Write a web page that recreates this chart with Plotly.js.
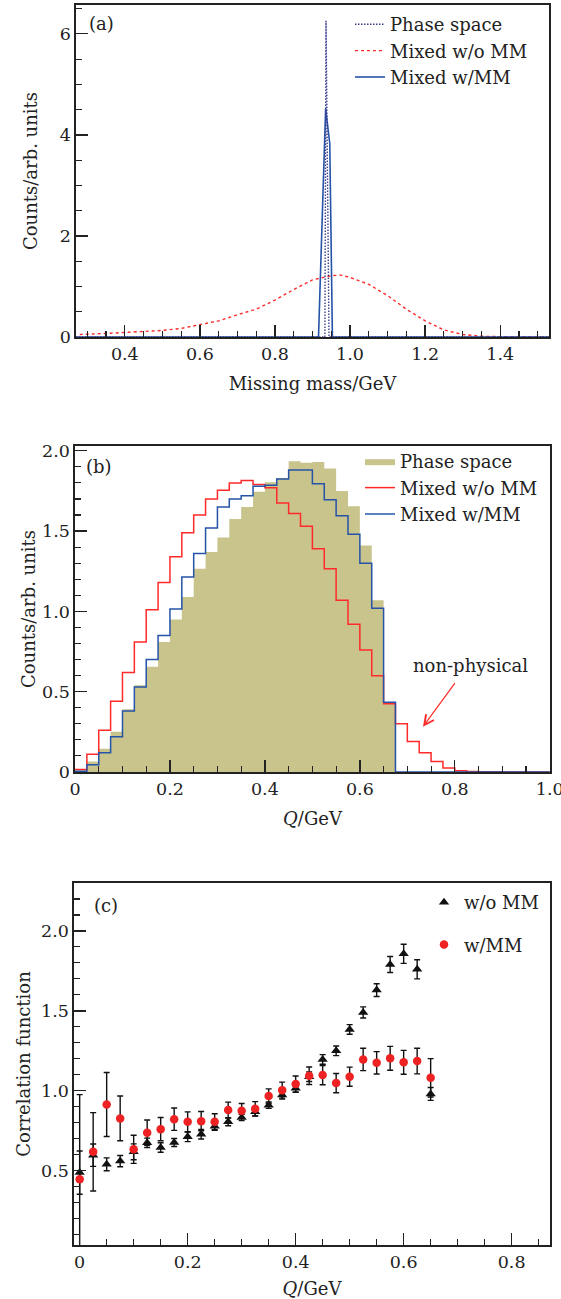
<!DOCTYPE html>
<html>
<head>
<meta charset="utf-8">
<script src="https://cdn.plot.ly/plotly-3.0.1.min.js"></script>
<style>html,body{margin:0;padding:0;background:#fff;}#chart{width:561px;height:1299px;}</style>
</head>
<body>
<div id="chart"></div>
<script>
// ---------- Panel (a): missing mass ----------
const mmPhaseX = [0.27, 0.933, 0.936, 0.944, 1.53];
const mmPhaseY = [0, 0, 6.26, 0, 0];
const mmNoMMX = [0.28, 0.30, 0.35, 0.40, 0.45, 0.50, 0.55, 0.60, 0.65, 0.70, 0.75, 0.80, 0.85, 0.90, 0.95, 0.975, 1.00, 1.05, 1.10, 1.15, 1.20, 1.25, 1.30, 1.35, 1.40, 1.45, 1.53];
const mmNoMMY = [0.05, 0.06, 0.07, 0.09, 0.105, 0.13, 0.17, 0.24, 0.32, 0.44, 0.55, 0.73, 0.94, 1.13, 1.215, 1.225, 1.18, 1.04, 0.82, 0.55, 0.32, 0.14, 0.05, 0.015, 0.003, 0, 0];
const mmWithMMX = [0.27, 0.916, 0.935, 0.946, 0.953, 1.53];
const mmWithMMY = [0, 0, 4.52, 3.83, 0, 0];

// ---------- Panel (b): Q distributions (bins of 0.025 GeV) ----------
const qEdges = [0, 0.025, 0.05, 0.075, 0.1, 0.125, 0.15, 0.175, 0.2, 0.225, 0.25, 0.275, 0.3, 0.325, 0.35, 0.375, 0.4, 0.425, 0.45, 0.475, 0.5, 0.525, 0.55, 0.575, 0.6, 0.625, 0.65, 0.675, 0.7, 0.725, 0.75, 0.775, 0.8, 0.825, 0.85, 0.875, 0.9, 0.925, 0.95, 0.975, 1.0];
const phaseSpace = [0.01, 0.065, 0.145, 0.25, 0.39, 0.54, 0.655, 0.81, 0.95, 1.09, 1.265, 1.37, 1.46, 1.575, 1.65, 1.745, 1.805, 1.83, 1.935, 1.925, 1.93, 1.89, 1.75, 1.655, 1.41, 1.07, 0.435, 0, 0, 0, 0, 0, 0, 0, 0, 0, 0, 0, 0, 0];
const mixedNoMM = [0.015, 0.11, 0.26, 0.44, 0.62, 0.81, 1.01, 1.18, 1.34, 1.49, 1.60, 1.70, 1.755, 1.80, 1.815, 1.79, 1.77, 1.675, 1.61, 1.53, 1.39, 1.265, 1.07, 0.92, 0.76, 0.60, 0.425, 0.30, 0.19, 0.12, 0.065, 0.025, 0.008, 0.003, 0.002, 0.001, 0, 0, 0, 0];
const mixedMM = [0.005, 0.045, 0.12, 0.22, 0.38, 0.53, 0.70, 0.85, 1.015, 1.215, 1.36, 1.52, 1.65, 1.70, 1.72, 1.78, 1.785, 1.825, 1.88, 1.88, 1.795, 1.695, 1.595, 1.48, 1.30, 1.02, 0.435, 0, 0, 0, 0, 0, 0, 0, 0, 0, 0, 0, 0, 0];

// ---------- Panel (c): correlation function ----------
const qC = [0, 0.025, 0.05, 0.075, 0.1, 0.125, 0.15, 0.175, 0.2, 0.225, 0.25, 0.275, 0.3, 0.325, 0.35, 0.375, 0.4, 0.425, 0.45, 0.475, 0.5, 0.525, 0.55, 0.575, 0.6, 0.625, 0.65];
const cfNoMM = [0.488, 0.597, 0.54, 0.56, 0.618, 0.674, 0.645, 0.676, 0.712, 0.728, 0.778, 0.806, 0.833, 0.868, 0.91, 0.973, 1.015, 1.088, 1.196, 1.25, 1.384, 1.49, 1.63, 1.79, 1.857, 1.76, 0.98];
const errNoMM = [0.135, 0.07, 0.04, 0.035, 0.05, 0.03, 0.03, 0.025, 0.03, 0.03, 0.025, 0.025, 0.02, 0.025, 0.02, 0.025, 0.025, 0.03, 0.03, 0.03, 0.03, 0.035, 0.04, 0.05, 0.06, 0.06, 0.04];
const cfMM = [0.446, 0.618, 0.914, 0.827, 0.634, 0.737, 0.76, 0.822, 0.806, 0.81, 0.806, 0.879, 0.875, 0.887, 0.967, 1.004, 1.042, 1.094, 1.098, 1.048, 1.088, 1.196, 1.175, 1.203, 1.178, 1.186, 1.081];
const errMM = [0.53, 0.245, 0.2, 0.14, 0.088, 0.08, 0.073, 0.07, 0.062, 0.06, 0.05, 0.05, 0.045, 0.045, 0.045, 0.05, 0.05, 0.055, 0.06, 0.06, 0.06, 0.07, 0.07, 0.075, 0.075, 0.08, 0.12];

// tick labels
const aTickVals = [0.4, 0.6, 0.8, 1.0, 1.2, 1.4];
const aTickText = ["0.4", "0.6", "0.8", "1.0", "1.2", "1.4"];
const aYTickVals = [0, 2, 4, 6];
const aYTickText = ["0", "2", "4", "6"];
const bTickVals = [0, 0.2, 0.4, 0.6, 0.8, 1.0];
const bTickText = ["0", "0.2", "0.4", "0.6", "0.8", "1.0"];
const bYTickVals = [0, 0.5, 1.0, 1.5, 2.0];
const bYTickText = ["0", "0.5", "1.0", "1.5", "2.0"];
const cTickVals = [0, 0.2, 0.4, 0.6, 0.8];
const cTickText = ["0", "0.2", "0.4", "0.6", "0.8"];
const cYTickVals = [0.5, 1.0, 1.5, 2.0];
const cYTickText = ["0.5", "1.0", "1.5", "2.0"];

const W = 561, H = 1299;
const FONT = "DejaVu Serif";
const FS = 18;
const RED = "#ff2a2a", BLUE = "#2553a8", NAVY = "#3b3f8c", OLIVE = "#c9c48c", AX = "#222222";

const stepY = arr => arr.concat([arr[arr.length - 1]]);

const traces = [
  // (a)
  {x: mmNoMMX, y: mmNoMMY, type: "scatter", mode: "lines", name: "Mixed w/o MM", xaxis: "x", yaxis: "y", legend: "legend", legendrank: 2,
   line: {color: RED, width: 1.4, dash: "3px,3px"}},
  {x: mmWithMMX, y: mmWithMMY, type: "scatter", mode: "lines", name: "Mixed w/MM", xaxis: "x", yaxis: "y", legend: "legend", legendrank: 3,
   line: {color: BLUE, width: 1.6}},
  {x: mmPhaseX, y: mmPhaseY, type: "scatter", mode: "lines", name: "Phase space", xaxis: "x", yaxis: "y", legend: "legend", legendrank: 1,
   line: {color: NAVY, width: 1.4, dash: "1.5px,1.5px"}},
  // (b)
  {x: qEdges, y: stepY(phaseSpace), type: "scatter", mode: "lines", fill: "tozeroy", fillcolor: OLIVE,
   line: {shape: "hv", color: OLIVE, width: 0}, name: "Phase space", xaxis: "x2", yaxis: "y2", legend: "legend2"},
  {x: qEdges, y: stepY(mixedNoMM), type: "scatter", mode: "lines", line: {shape: "hv", color: RED, width: 1.5},
   name: "Mixed w/o MM", xaxis: "x2", yaxis: "y2", legend: "legend2"},
  {x: qEdges, y: stepY(mixedMM), type: "scatter", mode: "lines", line: {shape: "hv", color: BLUE, width: 1.5},
   name: "Mixed w/MM", xaxis: "x2", yaxis: "y2", legend: "legend2"},
  // (c)
  {x: qC, y: cfNoMM, type: "scatter", mode: "markers", name: "w/o MM", xaxis: "x3", yaxis: "y3", legend: "legend3", legendgroup: "g1",
   marker: {symbol: "triangle-up", size: 9, color: "#111"},
   error_y: {type: "data", array: errNoMM, visible: true, color: "#111", thickness: 1.4, width: 3}},
  {x: qC, y: cfMM, type: "scatter", mode: "markers", name: "w/MM", xaxis: "x3", yaxis: "y3", legend: "legend3", legendgroup: "g2",
   marker: {symbol: "circle", size: 8.5, color: "#ee2222"},
   error_y: {type: "data", array: errMM, visible: true, color: "#111", thickness: 1.4, width: 3}}
];

function axis(extra) {
  return Object.assign({
    showline: true, mirror: true, linecolor: AX, linewidth: 1.6,
    ticks: "inside", ticklen: 12, tickwidth: 1.3, tickcolor: AX,
    showgrid: false, zeroline: false, fixedrange: true,
    tickfont: {family: FONT, size: 17.5, color: "#222"},
    tickmode: "array", ticklabeloverflow: "allow"
  }, extra);
}

const legendBase = {font: {family: FONT, size: FS, color: "#222"}, bgcolor: "rgba(0,0,0,0)", borderwidth: 0,
  xanchor: "left", yanchor: "top", itemwidth: 30, tracegroupgap: 0};

const layout = {
  width: W, height: H,
  margin: {l: 0, r: 0, t: 0, b: 0},
  paper_bgcolor: "#fff", plot_bgcolor: "#fff",
  font: {family: FONT, size: FS, color: "#222"},
  showlegend: true,
  xaxis: axis({domain: [76 / W, 549 / W], range: [0.27, 1.53], anchor: "y",
    tickvals: aTickVals, ticktext: aTickText,
    minor: {dtick: 0.05, tick0: 0, ticks: "inside", ticklen: 6, tickwidth: 1.1, tickcolor: AX},
    title: {text: "Missing mass/GeV", font: {family: FONT, size: FS}, standoff: 15}}),
  yaxis: axis({domain: [1 - 337 / H, 1 - 5 / H], range: [0, 6.57], anchor: "x",
    tickvals: aYTickVals, ticktext: aYTickText,
    minor: {dtick: 0.5, tick0: 0, ticks: "inside", ticklen: 6, tickwidth: 1.1, tickcolor: AX},
    title: {text: "Counts/arb. units", font: {family: FONT, size: FS}, standoff: 17}}),
  xaxis2: axis({domain: [75 / W, 550 / W], range: [0, 1.0005], anchor: "y2",
    tickvals: bTickVals, ticktext: bTickText,
    minor: {dtick: 0.05, tick0: 0, ticks: "inside", ticklen: 6, tickwidth: 1.1, tickcolor: AX},
    title: {text: "<i>Q</i>/GeV", font: {family: FONT, size: FS}, standoff: 15}}),
  yaxis2: axis({domain: [1 - 772 / H, 1 - 446 / H], range: [0, 2.03], anchor: "x2",
    tickvals: bYTickVals, ticktext: bYTickText,
    minor: {dtick: 0.1, tick0: 0, ticks: "inside", ticklen: 6, tickwidth: 1.1, tickcolor: AX},
    title: {text: "Counts/arb. units", font: {family: FONT, size: FS}, standoff: 2}}),
  xaxis3: axis({domain: [74 / W, 550 / W], range: [-0.0105, 0.871], anchor: "y3",
    tickvals: cTickVals, ticktext: cTickText,
    minor: {dtick: 0.05, tick0: 0, ticks: "inside", ticklen: 6, tickwidth: 1.1, tickcolor: AX},
    title: {text: "<i>Q</i>/GeV", font: {family: FONT, size: FS}, standoff: 13}}),
  yaxis3: axis({domain: [1 - 1245 / H, 1 - 883 / H], range: [0.035, 2.30], anchor: "x3",
    tickvals: cYTickVals, ticktext: cYTickText,
    minor: {dtick: 0.1, tick0: 0, ticks: "inside", ticklen: 6, tickwidth: 1.1, tickcolor: AX},
    title: {text: "Correlation function", font: {family: FONT, size: FS}, standoff: 6}}),
  legend: Object.assign({}, legendBase, {x: 350 / W, y: 1 - 6 / H}),
  legend2: Object.assign({}, legendBase, {x: 360 / W, y: 1 - 443 / H}),
  legend3: Object.assign({}, legendBase, {x: 424 / W, y: 1 - 884 / H, traceorder: "grouped", tracegroupgap: 16}),
  annotations: [
    {text: "(a)", xref: "paper", yref: "paper", x: 101 / W, y: 1 - 24 / H, showarrow: false, xanchor: "center", yanchor: "middle", font: {family: FONT, size: FS, color: "#222"}},
    {text: "(b)", xref: "paper", yref: "paper", x: 99 / W, y: 1 - 466 / H, showarrow: false, xanchor: "center", yanchor: "middle", font: {family: FONT, size: FS, color: "#222"}},
    {text: "(c)", xref: "paper", yref: "paper", x: 106 / W, y: 1 - 905 / H, showarrow: false, xanchor: "center", yanchor: "middle", font: {family: FONT, size: FS, color: "#222"}},
    {text: "non-physical", xref: "paper", yref: "paper", x: 470 / W, y: 1 - 665 / H, showarrow: false, xanchor: "center", yanchor: "middle", font: {family: FONT, size: FS, color: "#222"}},
    {text: "", xref: "x2", yref: "y2", x: 0.733, y: 0.282, ax: 33, ay: -45, showarrow: true, arrowhead: 5, arrowsize: 1.6, arrowwidth: 1.2, arrowcolor: RED}
  ]
};

Plotly.newPlot("chart", traces, layout, {staticPlot: true, displayModeBar: false});
</script>
</body>
</html>
